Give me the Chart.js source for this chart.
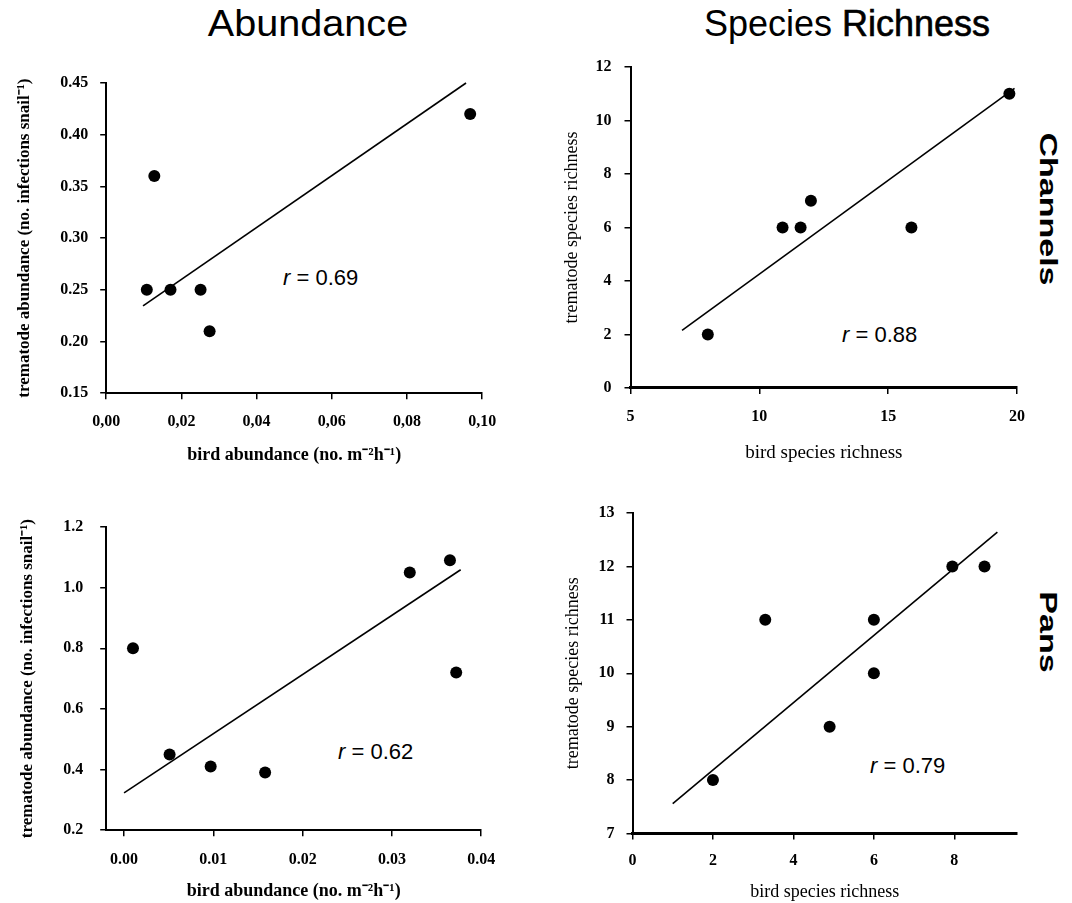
<!DOCTYPE html>
<html>
<head>
<meta charset="utf-8">
<script src="https://cdn.jsdelivr.net/npm/chart.js@4.4.0/dist/chart.umd.min.js"></script>
<style>
  html, body { margin: 0; padding: 0; background: #fff; overflow: hidden; }
  body { width: 1072px; height: 903px; position: relative; font-family: "Liberation Sans", Arial, sans-serif; }
  canvas { position: absolute; }
  .head { position: absolute; font-size: 36px; line-height: 1; color: #000; white-space: nowrap; transform: translate(-50%, -50%); }
  .side { position: absolute; font-size: 34px; font-weight: bold; line-height: 1; color: #000; white-space: nowrap; transform: translate(-50%, -50%) rotate(90deg) scaleY(0.72); }
  .rval { position: absolute; font-size: 22px; line-height: 22px; color: #000; white-space: nowrap; }
</style>
</head>
<body>
<div class="head" style="left:308px; top:24px; transform: translate(-50%, -50%) scaleX(1.1);">Abundance</div>
<div class="head" style="left:847px; top:24px;">Species <span style="-webkit-text-stroke:0.6px #000;">Richness</span></div>
<div class="side" style="left:1049px; top:209px;">Channels</div>
<div class="side" style="left:1049px; top:632px;">Pans</div>
<div class="rval" style="left:283px; top:267px;"><i>r</i> = 0.69</div>
<div class="rval" style="left:842px; top:324px;"><i>r</i> = 0.88</div>
<div class="rval" style="left:338px; top:741px;"><i>r</i> = 0.62</div>
<div class="rval" style="left:870px; top:755px;"><i>r</i> = 0.79</div>

<canvas id="c1"></canvas>
<canvas id="c2"></canvas>
<canvas id="c3"></canvas>
<canvas id="c4"></canvas>

<script>
// Channels - abundance
var abChanX = [0.0108, 0.0128, 0.0171, 0.0251, 0.0275, 0.0968];
var abChanY = [0.25, 0.36, 0.25, 0.25, 0.21, 0.42];
var abChanFitX = [0.0098, 0.0957];
var abChanFitY = [0.2345, 0.45];
var abChanXTicks = [0, 0.02, 0.04, 0.06, 0.08, 0.10];
var abChanXLabels = ['0,00', '0,02', '0,04', '0,06', '0,08', '0,10'];
var abChanYTicks = [0.15, 0.20, 0.25, 0.30, 0.35, 0.40, 0.45];
var abChanYLabels = ['0.15', '0.20', '0.25', '0.30', '0.35', '0.40', '0.45'];

// Channels - species richness
var spChanX = [8.0, 10.9, 11.6, 12.0, 15.9, 19.7];
var spChanY = [2, 6, 6, 7, 6, 11];
var spChanFitX = [7.0, 19.9];
var spChanFitY = [2.15, 11.2];
var spChanXTicks = [5, 10, 15, 20];
var spChanXLabels = ['5', '10', '15', '20'];
var spChanYTicks = [0, 2, 4, 6, 8, 10, 12];
var spChanYLabels = ['0', '2', '4', '6', '8', '10', '12'];

// Pans - abundance
var abPanX = [0.001, 0.0051, 0.0097, 0.0158, 0.032, 0.0365, 0.0372];
var abPanY = [0.80, 0.45, 0.41, 0.39, 1.05, 1.09, 0.72];
var abPanFitX = [0.0, 0.0377];
var abPanFitY = [0.323, 1.059];
var abPanXTicks = [0, 0.01, 0.02, 0.03, 0.04];
var abPanXLabels = ['0.00', '0.01', '0.02', '0.03', '0.04'];
var abPanYTicks = [0.2, 0.4, 0.6, 0.8, 1.0, 1.2];
var abPanYLabels = ['0.2', '0.4', '0.6', '0.8', '1.0', '1.2'];

// Pans - species richness
var spPanX = [2.0, 3.3, 4.9, 6.0, 6.0, 7.95, 8.75];
var spPanY = [8, 11, 9, 11, 10, 12, 12];
var spPanFitX = [1.0, 9.07];
var spPanFitY = [7.56, 12.64];
var spPanXTicks = [0, 2, 4, 6, 8];
var spPanXLabels = ['0', '2', '4', '6', '8'];
var spPanYTicks = [7, 8, 9, 10, 11, 12, 13];
var spPanYLabels = ['7', '8', '9', '10', '11', '12', '13'];

var serif = '"Liberation Serif", "Times New Roman", serif';

function pts(xs, ys) {
    return xs.map(function (x, i) { return { x: x, y: ys[i] }; });
}

function panel(id, p) {
    var canvas = document.getElementById(id);
    var box = p.box;
    var yLH = p.yTitleSize * 1.2;
    var xLH = p.xTitleSize * 1.2;
    var L = p.yTitleX - yLH / 2;
    var T = box.t - 30;
    var R = box.r + 45;
    var B = p.xTitleY + xLH / 2;
    canvas.width = Math.round(R - L);
    canvas.height = Math.round(B - T);
    canvas.style.left = L + 'px';
    canvas.style.top = T + 'px';

    new Chart(canvas.getContext('2d'), {
        type: 'scatter',
        data: {
            datasets: [{
                data: pts(p.fitX, p.fitY),
                showLine: true,
                borderColor: '#000',
                borderWidth: 1.6,
                pointRadius: 0,
                clip: false
            }, {
                data: pts(p.xs, p.ys),
                backgroundColor: '#000',
                borderWidth: 0,
                pointRadius: 6,
                clip: false
            }]
        },
        options: {
            responsive: false,
            animation: false,
            devicePixelRatio: 1,
            layout: { padding: { top: 30, right: canvas.width - (box.r - L), left: 0, bottom: 0 } },
            plugins: { legend: { display: false }, tooltip: { enabled: false } },
            scales: {
                x: {
                    type: 'linear',
                    min: p.xMin,
                    max: p.xMax,
                    afterFit: function (s) { s.height = B - box.b; },
                    afterBuildTicks: function (s) { s.ticks = p.xTicks.map(function (v) { return { value: v }; }); },
                    border: { display: true, color: '#000', width: p.xBorder },
                    grid: { display: true, drawOnChartArea: false, drawTicks: true, tickLength: 6, color: '#000', lineWidth: 1.5 },
                    ticks: {
                        autoSkip: false,
                        maxRotation: 0,
                        padding: p.xPad,
                        color: '#000',
                        font: { family: serif, size: 16, weight: 'bold' },
                        callback: function (v, i) { return p.xLabels[i]; }
                    },
                    title: {
                        display: true,
                        text: p.xTitle,
                        color: '#000',
                        padding: 0,
                        font: { family: serif, size: p.xTitleSize, weight: p.titleWeight }
                    }
                },
                y: {
                    type: 'linear',
                    min: p.yMin,
                    max: p.yMax,
                    afterFit: function (s) { s.width = box.l - L; },
                    afterBuildTicks: function (s) { s.ticks = p.yTicks.map(function (v) { return { value: v }; }); },
                    border: { display: true, color: '#000', width: 2 },
                    grid: { display: true, drawOnChartArea: false, drawTicks: true, tickLength: 6, color: '#000', lineWidth: 1.5 },
                    ticks: {
                        autoSkip: false,
                        padding: p.yPad,
                        color: '#000',
                        font: { family: serif, size: 16, weight: 'bold' },
                        callback: function (v, i) { return p.yLabels[i]; }
                    },
                    title: {
                        display: true,
                        text: p.yTitle,
                        color: '#000',
                        padding: 0,
                        font: { family: serif, size: p.yTitleSize, weight: p.titleWeight }
                    }
                }
            }
        }
    });
}

panel('c1', {
    box: { l: 106, r: 482, t: 83, b: 393 },
    yTitleX: 24, xTitleY: 455, yTitleSize: 17, xTitleSize: 18, titleWeight: 'bold',
    xs: abChanX, ys: abChanY, fitX: abChanFitX, fitY: abChanFitY,
    xMin: 0, xMax: 0.10, yMin: 0.15, yMax: 0.45,
    xTicks: abChanXTicks, xLabels: abChanXLabels, yTicks: abChanYTicks, yLabels: abChanYLabels,
    xPad: 13, yPad: 12, xBorder: 2,
    xTitle: 'bird abundance (no. m\u207B\u00B2h\u207B\u00B9)',
    yTitle: 'trematode abundance (no. infections snail\u207B\u00B9)'
});

panel('c2', {
    box: { l: 630.7, r: 1017.3, t: 66.7, b: 387.3 },
    yTitleX: 572, xTitleY: 452, yTitleSize: 18, xTitleSize: 19, titleWeight: 'normal',
    xs: spChanX, ys: spChanY, fitX: spChanFitX, fitY: spChanFitY,
    xMin: 5, xMax: 20, yMin: 0, yMax: 12,
    xTicks: spChanXTicks, xLabels: spChanXLabels, yTicks: spChanYTicks, yLabels: spChanYLabels,
    xPad: 13, yPad: 13, xBorder: 3,
    xTitle: 'bird species richness',
    yTitle: 'trematode species richness'
});

panel('c3', {
    box: { l: 106, r: 481, t: 526.7, b: 830 },
    yTitleX: 27, xTitleY: 891, yTitleSize: 17, xTitleSize: 18, titleWeight: 'bold',
    xs: abPanX, ys: abPanY, fitX: abPanFitX, fitY: abPanFitY,
    xMin: -0.002, xMax: 0.04, yMin: 0.2, yMax: 1.2,
    xTicks: abPanXTicks, xLabels: abPanXLabels, yTicks: abPanYTicks, yLabels: abPanYLabels,
    xPad: 14, yPad: 17, xBorder: 2,
    xTitle: 'bird abundance (no. m\u207B\u00B2h\u207B\u00B9)',
    yTitle: 'trematode abundance (no. infections snail\u207B\u00B9)'
});

panel('c4', {
    box: { l: 632.7, r: 1017.3, t: 512.7, b: 833.3 },
    yTitleX: 573, xTitleY: 892, yTitleSize: 18, xTitleSize: 18, titleWeight: 'normal',
    xs: spPanX, ys: spPanY, fitX: spPanFitX, fitY: spPanFitY,
    xMin: 0, xMax: 9.56, yMin: 7, yMax: 13,
    xTicks: spPanXTicks, xLabels: spPanXLabels, yTicks: spPanYTicks, yLabels: spPanYLabels,
    xPad: 12, yPad: 12, xBorder: 3,
    xTitle: 'bird species richness',
    yTitle: 'trematode species richness'
});
</script>
</body>
</html>
